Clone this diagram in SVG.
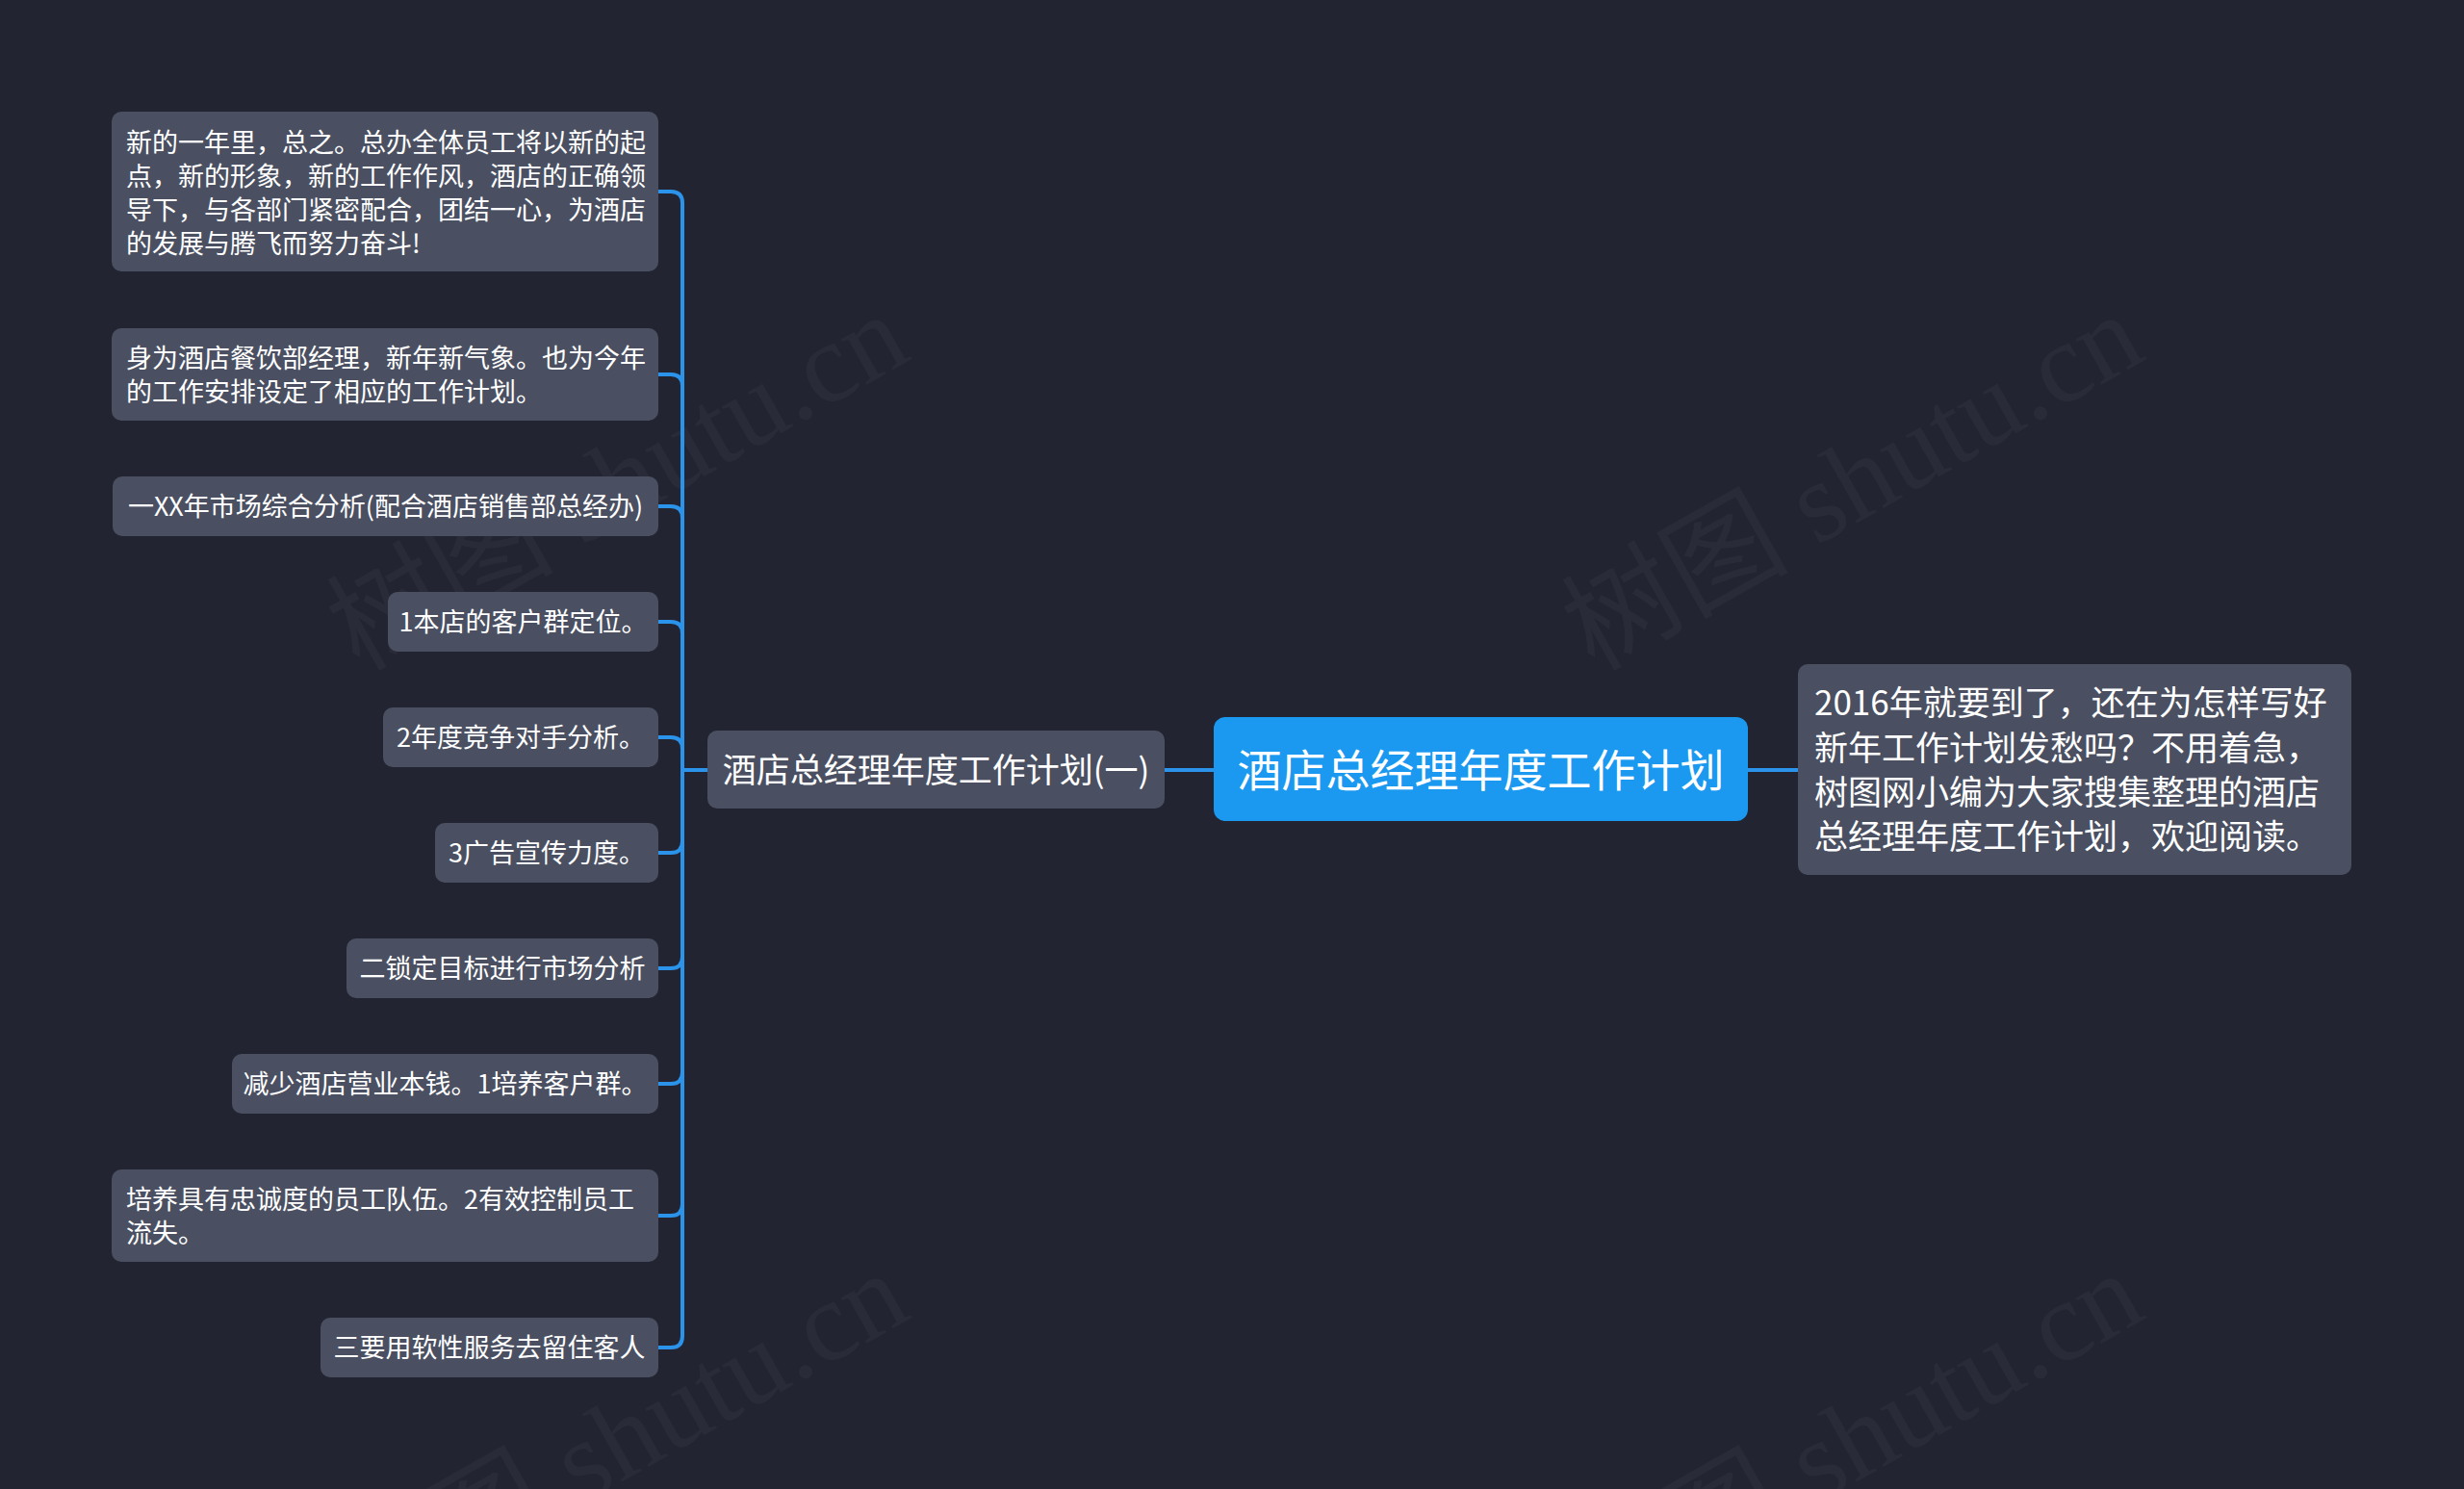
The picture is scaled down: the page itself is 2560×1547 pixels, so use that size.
<svg xmlns="http://www.w3.org/2000/svg" width="2560" height="1547" viewBox="0 0 2560 1547">
<style>
.bg{fill:#222531}
.wm{font-family:"Liberation Serif","Noto Sans CJK SC",serif;font-size:118px;fill:#ffffff;fill-opacity:0.035}
.node{fill:#4a5061}
.root{fill:#1b98ef}
.t{font-family:"Noto Sans CJK SC","Noto Sans",sans-serif;fill:#ffffff}
.s{font-size:27px}
.m{font-size:35px}
.l{font-size:46px}
.c{fill:none;stroke:#2b93ea;stroke-width:4;stroke-linecap:round}
</style>
<rect class="bg" x="0" y="0" width="2560" height="1547"/>
<g id="watermarks">
<text class="wm" transform="translate(373,698) rotate(-29.5)">树图 shutu.cn</text>
<text class="wm" transform="translate(1656,698) rotate(-29.5)">树图 shutu.cn</text>
<text class="wm" transform="translate(373,1694) rotate(-29.5)">树图 shutu.cn</text>
<text class="wm" transform="translate(1656,1694) rotate(-29.5)">树图 shutu.cn</text>
</g>
<g id="connectors">
<path class="c" d="M1261,800 H1210"/>
<path class="c" d="M1816,800 H1868"/>
<path class="c" d="M735,800 H709"/>
<path class="c" d="M709,800 V211 Q709,199 697,199 H684"/>
<path class="c" d="M709,800 V401 Q709,389 697,389 H684"/>
<path class="c" d="M709,800 V538 Q709,526 697,526 H684"/>
<path class="c" d="M709,800 V658 Q709,646 697,646 H684"/>
<path class="c" d="M709,800 V778 Q709,766 697,766 H684"/>
<path class="c" d="M709,800 V874 Q709,886 697,886 H684"/>
<path class="c" d="M709,800 V994 Q709,1006 697,1006 H684"/>
<path class="c" d="M709,800 V1114 Q709,1126 697,1126 H684"/>
<path class="c" d="M709,800 V1251 Q709,1263 697,1263 H684"/>
<path class="c" d="M709,800 V1388 Q709,1400 697,1400 H684"/>
</g>
<g id="root">
<rect class="root" x="1261" y="745" width="555" height="108" rx="12"/>
<text class="t l" x="1538.5" y="797" text-anchor="middle" dominant-baseline="central">酒店总经理年度工作计划</text>
</g>
<g id="intro">
<rect class="node" x="1868" y="690" width="575" height="219" rx="10"/>
<text class="t m" x="1885" y="727" dominant-baseline="central">2016年就要到了，还在为怎样写好</text>
<text class="t m" x="1885" y="774" dominant-baseline="central">新年工作计划发愁吗？不用着急，</text>
<text class="t m" x="1885" y="820" dominant-baseline="central">树图网小编为大家搜集整理的酒店</text>
<text class="t m" x="1885" y="866" dominant-baseline="central">总经理年度工作计划，欢迎阅读。</text>
</g>
<g id="branch">
<rect class="node" x="735" y="759" width="475" height="81" rx="10"/>
<text class="t m" x="972.5" y="797" text-anchor="middle" dominant-baseline="central">酒店总经理年度工作计划(一)</text>
</g>
<g id="n1">
<rect class="node" x="116" y="116" width="568" height="166" rx="10"/>
<text class="t s" x="131" y="146" dominant-baseline="central">新的一年里，总之。总办全体员工将以新的起</text>
<text class="t s" x="131" y="181" dominant-baseline="central">点，新的形象，新的工作作风，酒店的正确领</text>
<text class="t s" x="131" y="216" dominant-baseline="central">导下，与各部门紧密配合，团结一心，为酒店</text>
<text class="t s" x="131" y="251" dominant-baseline="central">的发展与腾飞而努力奋斗!</text>
</g>
<g id="n2">
<rect class="node" x="116" y="341" width="568" height="96" rx="10"/>
<text class="t s" x="131" y="370" dominant-baseline="central">身为酒店餐饮部经理，新年新气象。也为今年</text>
<text class="t s" x="131" y="405" dominant-baseline="central">的工作安排设定了相应的工作计划。</text>
</g>
<g id="n3">
<rect class="node" x="117" y="495" width="567" height="62" rx="10"/>
<text class="t s" x="400.5" y="524" text-anchor="middle" dominant-baseline="central">一XX年市场综合分析(配合酒店销售部总经办)</text>
</g>
<g id="n4">
<rect class="node" x="403" y="615" width="281" height="62" rx="10"/>
<text class="t s" x="543.5" y="644" text-anchor="middle" dominant-baseline="central">1本店的客户群定位。</text>
</g>
<g id="n5">
<rect class="node" x="398" y="735" width="286" height="62" rx="10"/>
<text class="t s" x="541" y="764" text-anchor="middle" dominant-baseline="central">2年度竞争对手分析。</text>
</g>
<g id="n6">
<rect class="node" x="452" y="855" width="232" height="62" rx="10"/>
<text class="t s" x="568" y="884" text-anchor="middle" dominant-baseline="central">3广告宣传力度。</text>
</g>
<g id="n7">
<rect class="node" x="360" y="975" width="324" height="62" rx="10"/>
<text class="t s" x="522" y="1004" text-anchor="middle" dominant-baseline="central">二锁定目标进行市场分析</text>
</g>
<g id="n8">
<rect class="node" x="241" y="1095" width="443" height="62" rx="10"/>
<text class="t s" x="462.5" y="1124" text-anchor="middle" dominant-baseline="central">减少酒店营业本钱。1培养客户群。</text>
</g>
<g id="n9">
<rect class="node" x="116" y="1215" width="568" height="96" rx="10"/>
<text class="t s" x="131" y="1244" dominant-baseline="central">培养具有忠诚度的员工队伍。2有效控制员工</text>
<text class="t s" x="131" y="1279" dominant-baseline="central">流失。</text>
</g>
<g id="n10">
<rect class="node" x="333" y="1369" width="351" height="62" rx="10"/>
<text class="t s" x="508.5" y="1398" text-anchor="middle" dominant-baseline="central">三要用软性服务去留住客人</text>
</g>
</svg>
